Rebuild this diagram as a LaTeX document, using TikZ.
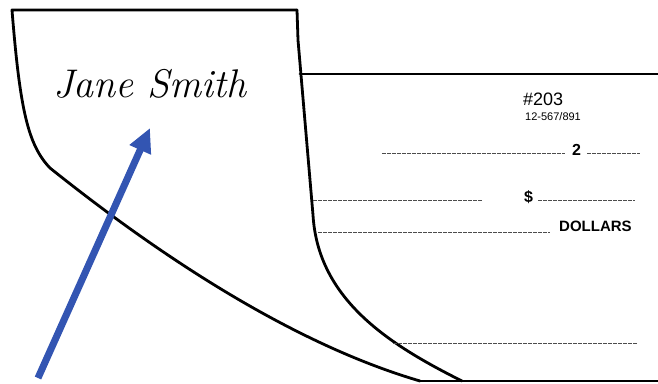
\documentclass[tikz,border=0pt]{standalone}
\usepackage{fontspec}
\setmainfont{Latin Modern Roman}
\newfontfamily\chkfont{Liberation Sans}
\usetikzlibrary{arrows.meta}
\definecolor{arrowblue}{RGB}{51,85,178}
\tikzset{
  outline/.style={line width=2.8pt, line join=round, line cap=round},
  fieldline/.style={line width=1pt, black!70, dash pattern=on 4pt off 1pt},
  chktext/.style={inner sep=0pt, font=\chkfont},
  bluearrow/.style={line width=7pt, arrowblue, -{Triangle[length=24pt,width=22pt]}}
}
\begin{document}
\begin{tikzpicture}[x=1pt,y=-1pt]
\useasboundingbox (0,0) rectangle (658,383);
% check body lines
\draw[outline] (300,74) -- (658,74);
\draw[outline] (420,381) -- (658,381);
% flap
\draw[outline] (297,10) -- (12,10)
  .. controls (20,110) and (28,145) .. (50,168)
  .. controls (140,240) and (280,340) .. (420,381);
\draw[outline] (297,10) -- (298,40) -- (313,215)
  .. controls (318,300) and (390,345) .. (462,381);
% field lines
\draw[fieldline] (382,153) -- (565,153);
\draw[fieldline] (587,153) -- (640,153);
\draw[fieldline] (313,200) -- (482,200);
\draw[fieldline] (538,200) -- (635,200);
\draw[fieldline] (318,232) -- (550,232);
\draw[fieldline] (393,343) -- (637,343);
% texts
\node[chktext, anchor=base west, font=\chkfont\fontsize{18}{20}\selectfont] (num) at (523,105) {\#203};
\node[chktext, anchor=base west, font=\chkfont\fontsize{11}{12}\selectfont] (routing) at (525,120) {12-567/891};
\node[chktext, anchor=base west, font=\chkfont\bfseries\fontsize{16}{18}\selectfont] (yr) at (572,155) {2};
\node[chktext, anchor=base west, font=\chkfont\bfseries\fontsize{16}{18}\selectfont] (dollar) at (524,202) {\$};
\node[chktext, anchor=base west, font=\chkfont\bfseries\fontsize{15}{17}\selectfont] (dollars) at (559,231) {DOLLARS};
\node[inner sep=0pt, anchor=base, font=\itshape\fontsize{40}{44}\selectfont] (name) at (150,97) {Jane Smith};
% arrow
\coordinate (arrowtail) at (38,378);
\coordinate (arrowtip) at (150,128);
\draw[bluearrow] (arrowtail) -- (arrowtip);
\end{tikzpicture}
\end{document}
